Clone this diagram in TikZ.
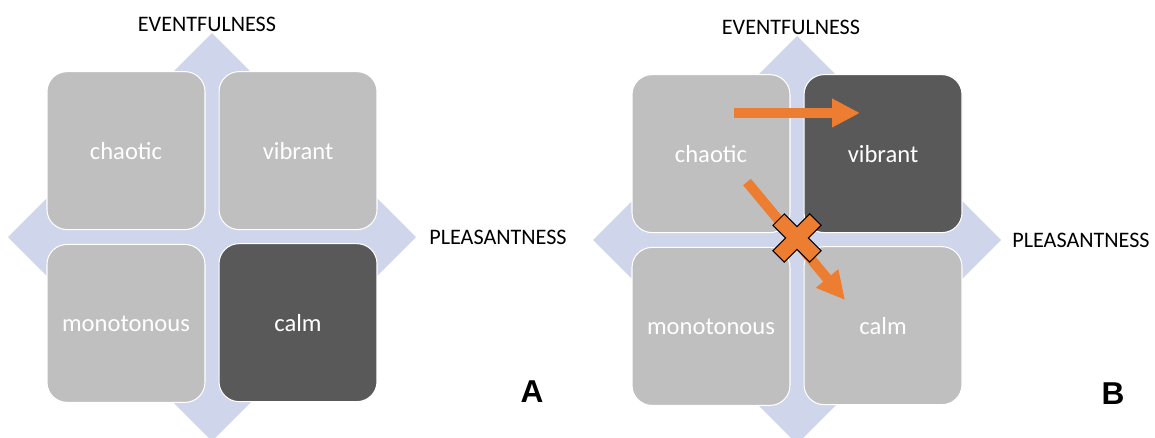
\documentclass[tikz,border=0pt]{standalone}
\usepackage{fontspec}
\setmainfont{Carlito}
\newfontfamily\panelfont{Liberation Sans}
\usetikzlibrary{matrix,arrows.meta}

\definecolor{tilegray}{HTML}{BFBFBF}
\definecolor{tiledark}{HTML}{595959}
\definecolor{axisblue}{HTML}{CFD5EA}
\definecolor{moveorange}{HTML}{ED7D31}

\tikzset{
	tile/.style={rectangle, rounded corners=0.4cm, fill=tilegray, draw=white, line width=0.6pt,
		text=white, minimum width=3.16cm, minimum height=3.16cm, font=\fontsize{14}{16}\selectfont},
	dark/.style={fill=tiledark},
	axislabel/.style={font=\fontsize{12.6}{14}\selectfont},
	panellabel/.style={font=\panelfont\bfseries\fontsize{18}{20}\selectfont},
	move/.style={moveorange, line width=0.2cm, -{Triangle[length=0.56cm,width=0.54cm]}},
}

\begin{document}
\begin{tikzpicture}[x=0.02cm, y=-0.02cm]
			\useasboundingbox (0,0) rectangle (1155,437);
			% panel A
			\coordinate (ca) at (212,237);
			\fill[axisblue] (ca) ++(0,-204) -- ++(204,204) -- ++(-204,204) -- ++(-204,-204) -- cycle;
			\matrix (a) [matrix of nodes, nodes={tile}, row sep=0.26cm, column sep=0.26cm] at (ca)
			{
				chaotic & vibrant \\
				monotonous & |[dark]| calm \\
			};
			\node[axislabel] (a-eventful) at (207,24) {EVENTFULNESS};
			\node[axislabel] (a-pleasant) at (498,237) {PLEASANTNESS};
			\node[panellabel] (a-label) at (532,392) {A};
			% panel B
			\coordinate (cb) at (797,240);
			\fill[axisblue] (cb) ++(0,-204) -- ++(204,204) -- ++(-204,204) -- ++(-204,-204) -- cycle;
			\matrix (b) [matrix of nodes, nodes={tile}, row sep=0.26cm, column sep=0.26cm] at (cb)
			{
				chaotic & |[dark]| vibrant \\
				monotonous & calm \\
			};
			\node[axislabel] (b-eventful) at (791,27) {EVENTFULNESS};
			\node[axislabel] (b-pleasant) at (1081,240) {PLEASANTNESS};
			\node[panellabel] (b-label) at (1113,394) {B};
			% moves out of chaotic
			\coordinate (go-start) at (734,113);
			\coordinate (go-end) at (860,113);
			\coordinate (no-start) at (747,182);
			\coordinate (no-end) at (845,300);
			\draw[move] (go-start) -- (go-end);
			\draw[move] (no-start) -- (no-end);
			% blocked move
			\filldraw[fill=moveorange, draw=black, line width=0.6pt, shift={(797,238)}, rotate=45]
			(26,8) -- (8,8) -- (8,26) -- (-8,26) -- (-8,8) -- (-26,8) -- (-26,-8) -- (-8,-8)
			-- (-8,-26) -- (8,-26) -- (8,-8) -- (26,-8) -- cycle;
		\end{tikzpicture}
\end{document}
